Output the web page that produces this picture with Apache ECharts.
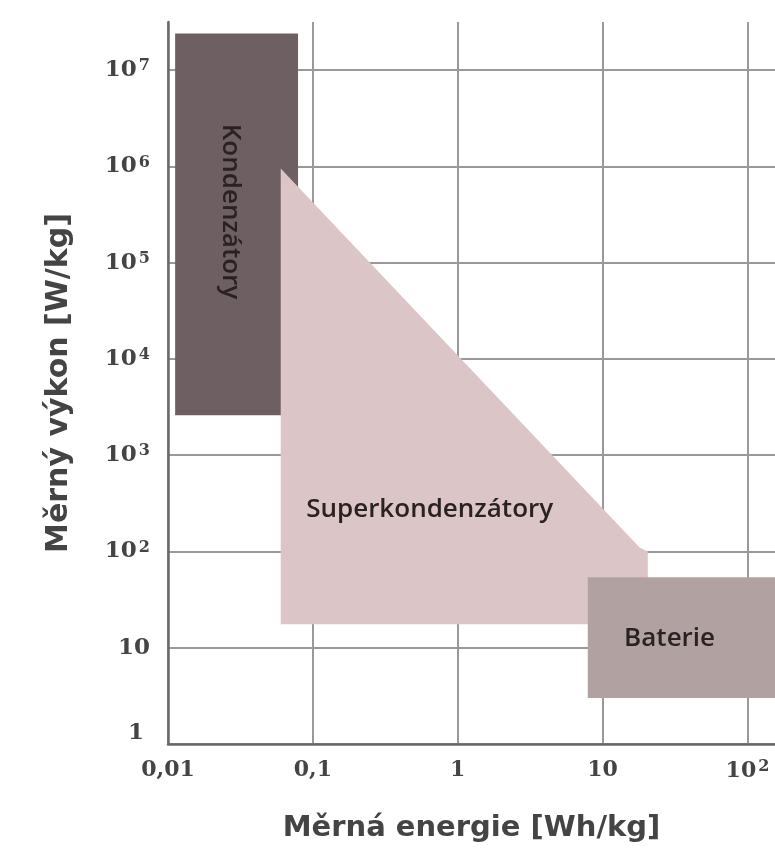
<!DOCTYPE html>
<html>
<head>
<meta charset="utf-8">
<script src="https://cdn.jsdelivr.net/npm/echarts@6/dist/echarts.min.js"></script>
<style>html,body{margin:0;padding:0;background:#fff}#c{width:775px;height:852px}</style>
</head>
<body>
<div id="c"></div>
<script>
// Axis ticks (powers of ten, log10 exponents)
const xTickExp = [-2, -1, 0, 1, 2];
const xTickLabels = ['0,01', '0,1', '1', '10', '10{s|2}'];
const yTickExp = [0, 1, 2, 3, 4, 5, 6, 7];
const yTickLabels = ['{one|1}', '10', '10{s|2}', '10{s|3}', '10{s|4}', '10{s|5}', '10{s|6}', '10{s|7}'];

// Regions: specific energy [Wh/kg] (x) and specific power [W/kg] (y)
const capacitorX = [0.0112, 0.079, 0.079, 0.0112];
const capacitorY = [2600, 2600, 2.4e7, 2.4e7];
const superX = [0.06, 18, 20.5, 20.5, 0.06];
const superY = [9.5e5, 110, 100, 17.5, 17.5];
const batteryX = [7.9, 400, 400, 7.9];
const batteryY = [3.0, 3.0, 54, 54];

// Region labels (name, anchor energy, anchor power)
const labelNames = ['Kondenzátory', 'Superkondenzátory', 'Baterie'];
const labelX = [0.027, 0.64, 29];
const labelY = [3.4e5, 270, 12.5];

const lg = Math.log10;

function region(xs, ys, color, z) {
  return {
    type: 'custom', coordinateSystem: 'cartesian2d', silent: true, z: z, clip: true,
    data: xs.map((x, i) => [lg(x), lg(ys[i])]),
    renderItem: function (params, api) {
      if (params.dataIndex !== 0) return null;
      const pts = xs.map((x, i) => api.coord([lg(x), lg(ys[i])]));
      return { type: 'polygon', shape: { points: pts }, style: { fill: color } };
    }
  };
}

const chart = echarts.init(document.getElementById('c'), null, { renderer: 'canvas' });
const axisFont = 'DejaVu Serif';
const textColor = '#444444';
const gridColor = '#999999';

chart.setOption({
  backgroundColor: '#ffffff',
  animation: false,
  grid: { left: 168, top: 22, right: 0, bottom: 108, containLabel: false },
  xAxis: {
    type: 'value', min: -2, max: 2.19, interval: 1,
    name: 'Měrná energie [Wh/kg]', nameLocation: 'middle', nameGap: 70,
    nameTextStyle: { fontFamily: 'DejaVu Sans', fontWeight: 'bold', fontSize: 29, color: textColor },
    axisLine: { show: true, onZero: false, lineStyle: { color: '#6a6a6a', width: 2.5 } },
    axisTick: { show: false },
    splitLine: { show: true, lineStyle: { color: [gridColor, gridColor, gridColor, gridColor, gridColor, 'rgba(0,0,0,0)'], width: 2 } },
    axisLabel: {
      margin: 15, showMaxLabel: false, color: textColor, fontFamily: axisFont, fontWeight: 'bold', fontSize: 22,
      formatter: function (v) { const i = xTickExp.indexOf(Math.round(v)); return Math.abs(v - Math.round(v)) < 1e-6 && i >= 0 ? xTickLabels[i] : ''; },
      rich: { s: { fontFamily: axisFont, fontWeight: 'bold', fontSize: 16, verticalAlign: 'top', color: textColor, padding: [0, 0, 8, 2] } }
    }
  },
  yAxis: {
    type: 'value', min: 0, max: 7.5, interval: 1,
    name: 'Měrný výkon [W/kg]', nameLocation: 'middle', nameGap: 94,
    nameTextStyle: { fontFamily: 'DejaVu Sans', fontWeight: 'bold', fontSize: 30, color: textColor },
    axisLine: { show: true, onZero: false, lineStyle: { color: '#6a6a6a', width: 2.5 } },
    axisTick: { show: false },
    splitLine: { show: true, lineStyle: { color: [gridColor, gridColor, gridColor, gridColor, gridColor, gridColor, gridColor, gridColor, 'rgba(0,0,0,0)'], width: 2 } },
    axisLabel: {
      margin: 18, showMaxLabel: false, color: textColor, fontFamily: axisFont, fontWeight: 'bold', fontSize: 23,
      formatter: function (v) { const i = yTickExp.indexOf(Math.round(v)); return Math.abs(v - Math.round(v)) < 1e-6 && i >= 0 ? yTickLabels[i] : ''; },
      rich: {
        s: { fontFamily: axisFont, fontWeight: 'bold', fontSize: 16, verticalAlign: 'top', color: textColor, padding: [0, 0, 8, 2] },
        one: { fontFamily: axisFont, fontWeight: 'bold', fontSize: 23, color: textColor, padding: [0, 6, 22, 0] }
      }
    }
  },
  series: [
    region(capacitorX, capacitorY, '#6e6062', 2),
    region(superX, superY, '#dcc5c6', 3),
    region(batteryX, batteryY, '#b2a1a1', 4),
    {
      type: 'custom', coordinateSystem: 'cartesian2d', silent: true, z: 10, clip: false,
      data: labelNames.map((n, i) => [lg(labelX[i]), lg(labelY[i])]),
      renderItem: function (params, api) {
        const i = params.dataIndex;
        const p = api.coord([api.value(0), api.value(1)]);
        return {
          type: 'text', x: p[0], y: p[1], rotation: i === 0 ? -Math.PI / 2 : 0,
          style: { text: labelNames[i], fontFamily: 'Open Sans', fontWeight: 600, fontSize: 26, fill: '#2a2122', align: 'center', verticalAlign: 'middle' }
        };
      }
    }
  ]
});
</script>
</body>
</html>
